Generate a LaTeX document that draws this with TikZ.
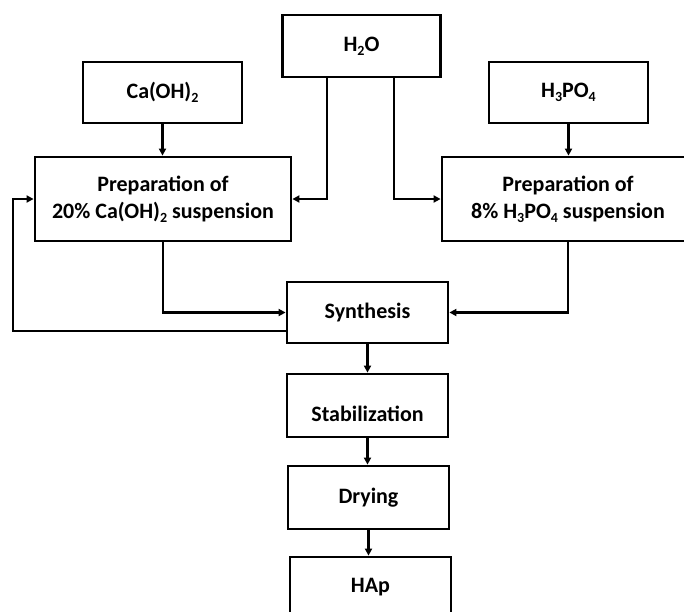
\documentclass[tikz,border=0pt]{standalone}
\usepackage{fontspec}
\setmainfont{Carlito}
\usetikzlibrary{arrows.meta,calc}
\newcommand{\dn}[1]{\raisebox{-0.35ex}{\fontsize{14}{14}\selectfont #1}}
\begin{document}
\begin{tikzpicture}[x=1pt,y=-1pt,
  box/.style={draw,line width=2.8pt,rectangle,inner sep=0pt,align=center,font=\fontsize{22}{27}\selectfont\bfseries},
  txt/.style={inner sep=0pt,align=center,font=\fontsize{22}{27}\selectfont\bfseries},
  conn/.style={line width=2.1pt,-{Triangle[length=7pt,width=7pt]}}]
\useasboundingbox[fill=white] (0,0) rectangle (684,611);
\node[box,minimum width=158pt,minimum height=62pt] (h2o) at (361.5,46) {H\dn{2}O};
\node[box,minimum width=159pt,minimum height=61pt] (caoh) at (162.5,92.5) {Ca(OH)\dn{2}};
\node[box,minimum width=159pt,minimum height=61pt] (hpo) at (568.5,92.5) {H\dn{3}PO\dn{4}};
\node[box,minimum width=256pt,minimum height=84pt] (prepL) at (163,199) {Preparation of\\20\% Ca(OH)\dn{2} suspension};
\node[box,minimum width=252pt,minimum height=84pt] (prepR) at (568,199) {Preparation of\\8\% H\dn{3}PO\dn{4} suspension};
\node[box,minimum width=161pt,minimum height=61pt] (syn) at (367.5,312.5) {Synthesis};
\node[box,minimum width=161pt,minimum height=63pt] (stab) at (367.5,405.5) {};
\node[txt] (stabt) at (367.5,414) {Stabilization};
\node[box,minimum width=161pt,minimum height=63pt] (dry) at (368.5,497.5) {Drying};
\node[box,minimum width=161pt,minimum height=60pt] (hap) at (370.5,587) {HAp};
\coordinate (fb) at (13,331);
\draw[conn] (caoh.south) -- (caoh.south |- prepL.north);
\draw[conn] (hpo.south) -- (hpo.south |- prepR.north);
\draw[conn] ([xshift=45.5pt]h2o.south west) |- (prepL.east);
\draw[conn] ([xshift=112.5pt]h2o.south west) |- (prepR.west);
\draw[conn] (prepL.south) |- (syn.west);
\draw[conn] (prepR.south) |- (syn.east);
\draw[conn] (syn.west |- fb) -- (fb) |- (prepL.west);
\draw[conn] (syn.south) -- (stab.north);
\draw[conn] (stab.south) -- (stab.south |- dry.north);
\draw[conn] (dry.south) -- (dry.south |- hap.north);
\end{tikzpicture}
\end{document}
